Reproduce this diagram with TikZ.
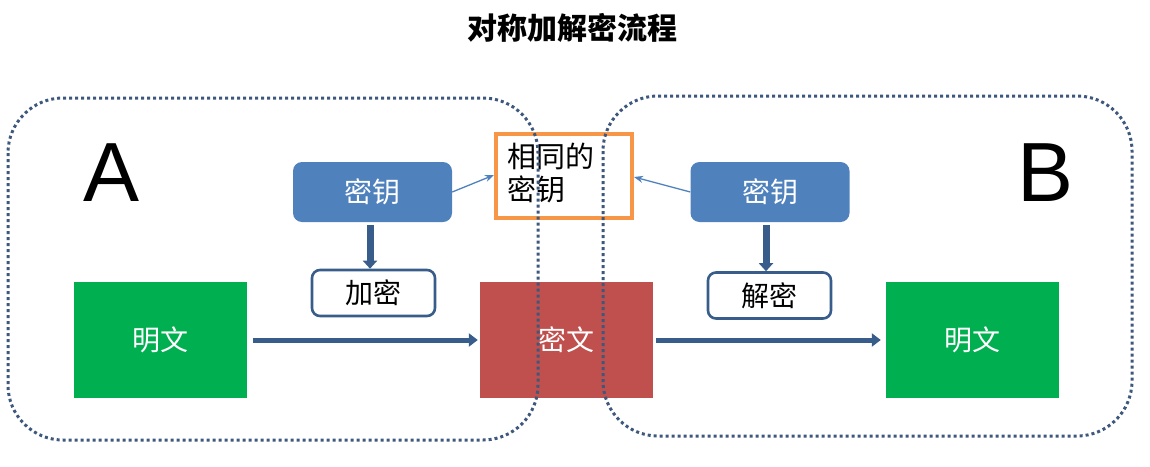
\documentclass[tikz,border=0pt]{standalone}
\usepackage{fontspec}
\setmainfont{Liberation Sans}
\newfontfamily\cjk{Noto Sans CJK SC}
\usetikzlibrary{arrows.meta}
\definecolor{keyblue}{RGB}{79,129,189}
\definecolor{darkblue}{RGB}{56,93,138}
\definecolor{dotblue}{RGB}{62,88,125}
\definecolor{plaingreen}{RGB}{0,176,80}
\definecolor{cipherred}{RGB}{192,80,77}
\definecolor{sameorange}{RGB}{247,150,70}
\begin{document}
\begin{tikzpicture}[x=1pt,y=-1pt,
  keybox/.style={draw=none,fill=keyblue,rounded corners=9pt,minimum width=159pt,minimum height=60pt,text=white,font=\cjk\fontsize{28}{30}\selectfont},
  opbox/.style={draw=darkblue,line width=2.6pt,fill=white,rounded corners=8pt,minimum width=123pt,minimum height=46pt,font=\cjk\fontsize{28}{30}\selectfont},
  databox/.style={draw=none,minimum width=173pt,minimum height=116pt,text=white,font=\cjk\fontsize{28}{30}\selectfont},
  thick arrow/.style={draw=darkblue,line width=5pt,-{Triangle[length=9pt,width=13pt]}},
  down arrow/.style={draw=darkblue,line width=7pt,-{Triangle[length=8pt,width=14pt]}},
  thin arrow/.style={draw=keyblue,line width=1.3pt,-{Stealth[length=9pt,width=7pt]}},
  group/.style={draw=dotblue,line width=3pt,dash pattern=on 3pt off 3pt,rounded corners=55pt},
  big letter/.style={font=\fontsize{84}{90}\selectfont,inner sep=0pt}
]
\useasboundingbox (0,0) rectangle (1150,466);
\node[font=\cjk\bfseries\fontsize{30}{32}\selectfont] (title) at (572,28) {对称加解密流程};

\node[big letter] (A) at (112,173) {A};
\node[big letter] (B) at (1045,173) {B};

\node[keybox] (k1) at (372.5,192) {密钥};
\node[keybox] (k2) at (770,192) {密钥};
\node[draw=sameorange,line width=4pt,fill=white,minimum width=136pt,minimum height=84pt,inner sep=0pt] (same) at (564,175.5) {};
\node[anchor=north west,inner sep=0pt,align=left,font=\cjk\fontsize{29}{33}\selectfont] (sametext) at (507,143) {相同的\\密钥};

\node[opbox] (enc) at (373.5,293) {加密};
\node[opbox] (dec) at (769.5,295.5) {解密};

\node[databox,fill=plaingreen] (p1) at (160,340) {明文};
\node[databox,fill=cipherred] (c) at (566.5,340) {密文};
\node[databox,fill=plaingreen] (p2) at (972.5,340) {明文};

\draw[thin arrow] (k1.east) -- (same.west |- 0,175);
\draw[thin arrow] (k2.west) -- (same.east |- 0,177);
\draw[down arrow] (k1.south -| 370,0) ++(0,3) -- (enc.north -| 370,0);
\draw[down arrow] (k2.south -| 766,0) ++(0,3) -- (dec.north -| 766,0);
\draw[thick arrow] ([xshift=6pt]p1.east) -- ([xshift=-2pt]c.west);
\draw[thick arrow] ([xshift=3pt]c.east) -- ([xshift=-5pt]p2.west);

\draw[group] (8,98) rectangle (538,440);
\draw[group] (603,96) rectangle (1132,436);
\end{tikzpicture}
\end{document}
